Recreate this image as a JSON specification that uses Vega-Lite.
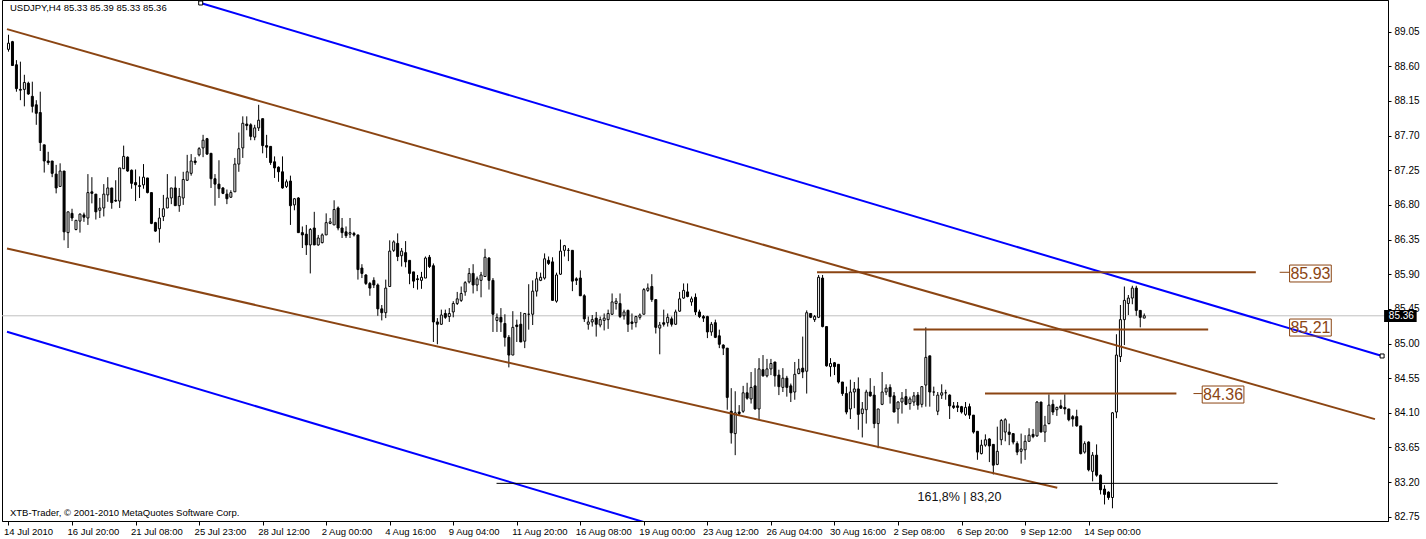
{
"$schema": "https://vega.github.io/schema/vega-lite/v6.json",
"width": 1386, "height": 521,
"autosize": {"type": "none"},
"padding": {"left": 2, "top": 0, "right": 38, "bottom": 18},
"background": "white",
"config": {"view": {"stroke": "black", "strokeWidth": 1}, "font": "Liberation Sans",
"axis": {"grid": false, "title": null, "tickColor": "black", "domainColor": "black", "labelFont": "Liberation Sans", "labelFontSize": 10, "labelColor": "black", "labelBound": false, "labelOverlap": false, "labelFlush": false}},
"datasets": {
"candles": [
{"i":0,"o":88.82,"h":89.01,"l":88.79,"c":88.90},
{"i":1,"o":88.92,"h":88.93,"l":88.61,"c":88.61},
{"i":2,"o":88.62,"h":88.68,"l":88.27,"c":88.31},
{"i":3,"o":88.30,"h":88.66,"l":88.16,"c":88.29},
{"i":4,"o":88.30,"h":88.49,"l":88.08,"c":88.39},
{"i":5,"o":88.38,"h":88.40,"l":88.23,"c":88.24},
{"i":6,"o":88.21,"h":88.40,"l":88.00,"c":88.08},
{"i":7,"o":88.10,"h":88.16,"l":87.84,"c":87.99},
{"i":8,"o":88.00,"h":88.27,"l":87.50,"c":87.61},
{"i":9,"o":87.58,"h":87.58,"l":87.22,"c":87.37},
{"i":10,"o":87.37,"h":87.49,"l":87.32,"c":87.35},
{"i":11,"o":87.37,"h":87.37,"l":87.16,"c":87.21},
{"i":12,"o":87.20,"h":87.32,"l":86.95,"c":87.02},
{"i":13,"o":87.04,"h":87.34,"l":87.04,"c":87.24},
{"i":14,"o":87.24,"h":87.24,"l":86.34,"c":86.45},
{"i":15,"o":86.44,"h":86.71,"l":86.24,"c":86.71},
{"i":16,"o":86.69,"h":86.75,"l":86.59,"c":86.63},
{"i":17,"o":86.48,"h":86.60,"l":86.47,"c":86.60},
{"i":18,"o":86.59,"h":86.69,"l":86.44,"c":86.68},
{"i":19,"o":86.67,"h":86.70,"l":86.58,"c":86.64},
{"i":20,"o":86.63,"h":87.20,"l":86.54,"c":86.96},
{"i":21,"o":86.97,"h":87.16,"l":86.82,"c":86.95},
{"i":22,"o":86.94,"h":86.94,"l":86.61,"c":86.71},
{"i":23,"o":86.73,"h":86.89,"l":86.63,"c":86.76},
{"i":24,"o":86.76,"h":87.07,"l":86.65,"c":86.94},
{"i":25,"o":86.93,"h":87.16,"l":86.84,"c":87.02},
{"i":26,"o":87.02,"h":87.02,"l":86.75,"c":86.83},
{"i":27,"o":86.86,"h":87.12,"l":86.84,"c":86.85},
{"i":28,"o":86.85,"h":87.28,"l":86.76,"c":87.28},
{"i":29,"o":87.27,"h":87.57,"l":87.27,"c":87.43},
{"i":30,"o":87.42,"h":87.43,"l":87.23,"c":87.24},
{"i":31,"o":87.25,"h":87.26,"l":87.01,"c":87.08},
{"i":32,"o":87.09,"h":87.26,"l":86.85,"c":87.06},
{"i":33,"o":87.05,"h":87.17,"l":86.89,"c":87.04},
{"i":34,"o":87.06,"h":87.33,"l":87.01,"c":87.16},
{"i":35,"o":87.15,"h":87.15,"l":86.95,"c":86.96},
{"i":36,"o":86.96,"h":86.96,"l":86.55,"c":86.56},
{"i":37,"o":86.57,"h":86.58,"l":86.45,"c":86.46},
{"i":38,"o":86.49,"h":86.76,"l":86.31,"c":86.63},
{"i":39,"o":86.65,"h":86.93,"l":86.59,"c":86.75},
{"i":40,"o":86.76,"h":87.20,"l":86.76,"c":86.89},
{"i":41,"o":86.89,"h":87.02,"l":86.81,"c":87.02},
{"i":42,"o":87.02,"h":87.17,"l":86.79,"c":86.79},
{"i":43,"o":86.79,"h":87.02,"l":86.71,"c":86.91},
{"i":44,"o":86.89,"h":87.23,"l":86.80,"c":87.13},
{"i":45,"o":87.12,"h":87.45,"l":87.11,"c":87.23},
{"i":46,"o":87.21,"h":87.46,"l":87.18,"c":87.37},
{"i":47,"o":87.37,"h":87.42,"l":87.32,"c":87.35},
{"i":48,"o":87.45,"h":87.55,"l":87.43,"c":87.53},
{"i":49,"o":87.54,"h":87.71,"l":87.42,"c":87.64},
{"i":50,"o":87.66,"h":87.67,"l":87.45,"c":87.46},
{"i":51,"o":87.47,"h":87.47,"l":87.02,"c":87.14},
{"i":52,"o":87.14,"h":87.20,"l":86.79,"c":87.07},
{"i":53,"o":87.07,"h":87.38,"l":86.89,"c":87.01},
{"i":54,"o":87.02,"h":87.03,"l":86.94,"c":86.95},
{"i":55,"o":86.94,"h":87.00,"l":86.81,"c":86.88},
{"i":56,"o":86.90,"h":86.99,"l":86.89,"c":86.96},
{"i":57,"o":86.97,"h":87.41,"l":86.97,"c":87.33},
{"i":58,"o":87.33,"h":87.74,"l":87.23,"c":87.53},
{"i":59,"o":87.54,"h":87.95,"l":87.41,"c":87.86},
{"i":60,"o":87.85,"h":87.95,"l":87.77,"c":87.83},
{"i":61,"o":87.84,"h":87.86,"l":87.64,"c":87.69},
{"i":62,"o":87.68,"h":87.84,"l":87.64,"c":87.80},
{"i":63,"o":87.80,"h":88.10,"l":87.76,"c":87.90},
{"i":64,"o":87.92,"h":87.92,"l":87.47,"c":87.57},
{"i":65,"o":87.57,"h":87.71,"l":87.41,"c":87.55},
{"i":66,"o":87.56,"h":87.56,"l":87.32,"c":87.35},
{"i":67,"o":87.36,"h":87.43,"l":87.15,"c":87.28},
{"i":68,"o":87.29,"h":87.30,"l":87.10,"c":87.23},
{"i":69,"o":87.23,"h":87.43,"l":87.01,"c":87.02},
{"i":70,"o":87.04,"h":87.13,"l":87.02,"c":87.10},
{"i":71,"o":87.11,"h":87.18,"l":86.54,"c":86.79},
{"i":72,"o":86.80,"h":86.89,"l":86.73,"c":86.88},
{"i":73,"o":86.89,"h":86.90,"l":86.44,"c":86.44},
{"i":74,"o":86.44,"h":86.52,"l":86.24,"c":86.41},
{"i":75,"o":86.42,"h":86.54,"l":86.15,"c":86.28},
{"i":76,"o":86.28,"h":86.50,"l":85.91,"c":86.48},
{"i":77,"o":86.50,"h":86.71,"l":86.28,"c":86.28},
{"i":78,"o":86.28,"h":86.41,"l":86.27,"c":86.37},
{"i":79,"o":86.31,"h":86.43,"l":86.30,"c":86.41},
{"i":80,"o":86.41,"h":86.69,"l":86.41,"c":86.57},
{"i":81,"o":86.56,"h":86.63,"l":86.55,"c":86.58},
{"i":82,"o":86.54,"h":86.86,"l":86.54,"c":86.74},
{"i":83,"o":86.76,"h":86.78,"l":86.47,"c":86.50},
{"i":84,"o":86.50,"h":86.63,"l":86.37,"c":86.44},
{"i":85,"o":86.45,"h":86.52,"l":86.37,"c":86.40},
{"i":86,"o":86.42,"h":86.63,"l":86.37,"c":86.44},
{"i":87,"o":86.43,"h":86.45,"l":86.39,"c":86.41},
{"i":88,"o":86.41,"h":86.41,"l":85.83,"c":85.96},
{"i":89,"o":85.98,"h":86.03,"l":85.85,"c":85.91},
{"i":90,"o":85.89,"h":85.90,"l":85.76,"c":85.78},
{"i":91,"o":85.78,"h":85.80,"l":85.62,"c":85.72},
{"i":92,"o":85.82,"h":85.86,"l":85.72,"c":85.76},
{"i":93,"o":85.76,"h":85.78,"l":85.36,"c":85.45},
{"i":94,"o":85.45,"h":85.50,"l":85.30,"c":85.40},
{"i":95,"o":85.40,"h":85.83,"l":85.33,"c":85.72},
{"i":96,"o":85.74,"h":86.34,"l":85.74,"c":86.20},
{"i":97,"o":86.21,"h":86.34,"l":86.19,"c":86.32},
{"i":98,"o":86.30,"h":86.43,"l":86.07,"c":86.13},
{"i":99,"o":86.14,"h":86.24,"l":86.00,"c":86.20},
{"i":100,"o":86.18,"h":86.33,"l":85.99,"c":86.06},
{"i":101,"o":86.08,"h":86.08,"l":85.77,"c":85.91},
{"i":102,"o":85.93,"h":85.93,"l":85.72,"c":85.81},
{"i":103,"o":85.84,"h":85.89,"l":85.70,"c":85.83},
{"i":104,"o":85.82,"h":85.93,"l":85.71,"c":85.86},
{"i":105,"o":85.85,"h":86.13,"l":85.85,"c":86.11},
{"i":106,"o":86.12,"h":86.15,"l":85.98,"c":86.00},
{"i":107,"o":86.01,"h":86.04,"l":85.02,"c":85.28},
{"i":108,"o":85.28,"h":85.33,"l":84.99,"c":85.25},
{"i":109,"o":85.25,"h":85.44,"l":85.24,"c":85.37},
{"i":110,"o":85.39,"h":85.44,"l":85.32,"c":85.34},
{"i":111,"o":85.35,"h":85.46,"l":85.28,"c":85.39},
{"i":112,"o":85.41,"h":85.55,"l":85.34,"c":85.52},
{"i":113,"o":85.52,"h":85.67,"l":85.50,"c":85.58},
{"i":114,"o":85.56,"h":85.74,"l":85.54,"c":85.65},
{"i":115,"o":85.67,"h":85.81,"l":85.62,"c":85.79},
{"i":116,"o":85.80,"h":85.98,"l":85.78,"c":85.91},
{"i":117,"o":85.91,"h":86.03,"l":85.65,"c":85.76},
{"i":118,"o":85.76,"h":85.87,"l":85.68,"c":85.84},
{"i":119,"o":85.82,"h":85.93,"l":85.60,"c":85.89},
{"i":120,"o":85.87,"h":86.23,"l":85.87,"c":86.12},
{"i":121,"o":86.11,"h":86.12,"l":85.70,"c":85.82},
{"i":122,"o":85.82,"h":85.85,"l":85.15,"c":85.38},
{"i":123,"o":85.30,"h":85.39,"l":85.15,"c":85.34},
{"i":124,"o":85.34,"h":85.46,"l":85.15,"c":85.28},
{"i":125,"o":85.26,"h":85.38,"l":84.96,"c":85.08},
{"i":126,"o":85.08,"h":85.11,"l":84.69,"c":84.85},
{"i":127,"o":84.85,"h":85.42,"l":84.85,"c":85.21},
{"i":128,"o":85.24,"h":85.31,"l":85.02,"c":85.22},
{"i":129,"o":85.25,"h":85.41,"l":85.02,"c":85.02},
{"i":130,"o":85.03,"h":85.39,"l":84.94,"c":85.39},
{"i":131,"o":85.38,"h":85.77,"l":85.18,"c":85.38},
{"i":132,"o":85.38,"h":85.82,"l":85.24,"c":85.68},
{"i":133,"o":85.68,"h":85.93,"l":85.61,"c":85.84},
{"i":134,"o":85.82,"h":85.92,"l":85.81,"c":85.86},
{"i":135,"o":85.85,"h":86.17,"l":85.83,"c":86.10},
{"i":136,"o":86.08,"h":86.13,"l":86.02,"c":86.04},
{"i":137,"o":86.06,"h":86.12,"l":85.56,"c":85.56},
{"i":138,"o":85.55,"h":85.92,"l":85.53,"c":85.89},
{"i":139,"o":85.90,"h":86.35,"l":85.89,"c":86.20},
{"i":140,"o":86.21,"h":86.28,"l":86.13,"c":86.27},
{"i":141,"o":86.21,"h":86.24,"l":86.07,"c":86.21},
{"i":142,"o":86.21,"h":86.21,"l":85.68,"c":85.81},
{"i":143,"o":85.84,"h":85.86,"l":85.76,"c":85.82},
{"i":144,"o":85.85,"h":85.95,"l":85.62,"c":85.62},
{"i":145,"o":85.62,"h":85.64,"l":85.28,"c":85.32},
{"i":146,"o":85.25,"h":85.35,"l":85.18,"c":85.28},
{"i":147,"o":85.28,"h":85.37,"l":85.22,"c":85.31},
{"i":148,"o":85.33,"h":85.41,"l":85.09,"c":85.25},
{"i":149,"o":85.24,"h":85.35,"l":85.21,"c":85.31},
{"i":150,"o":85.30,"h":85.39,"l":85.17,"c":85.33},
{"i":151,"o":85.31,"h":85.44,"l":85.19,"c":85.39},
{"i":152,"o":85.38,"h":85.65,"l":85.37,"c":85.54},
{"i":153,"o":85.52,"h":85.59,"l":85.44,"c":85.55},
{"i":154,"o":85.52,"h":85.65,"l":85.33,"c":85.35},
{"i":155,"o":85.36,"h":85.44,"l":85.31,"c":85.41},
{"i":156,"o":85.43,"h":85.44,"l":85.15,"c":85.25},
{"i":157,"o":85.28,"h":85.39,"l":85.18,"c":85.26},
{"i":158,"o":85.27,"h":85.36,"l":85.21,"c":85.35},
{"i":159,"o":85.34,"h":85.39,"l":85.31,"c":85.37},
{"i":160,"o":85.38,"h":85.72,"l":85.38,"c":85.70},
{"i":161,"o":85.69,"h":85.78,"l":85.67,"c":85.72},
{"i":162,"o":85.74,"h":85.90,"l":85.54,"c":85.57},
{"i":163,"o":85.57,"h":85.57,"l":85.13,"c":85.21},
{"i":164,"o":85.20,"h":85.28,"l":84.86,"c":85.24},
{"i":165,"o":85.27,"h":85.44,"l":85.22,"c":85.25},
{"i":166,"o":85.27,"h":85.39,"l":85.22,"c":85.34},
{"i":167,"o":85.32,"h":85.35,"l":85.22,"c":85.25},
{"i":168,"o":85.25,"h":85.44,"l":85.24,"c":85.41},
{"i":169,"o":85.42,"h":85.67,"l":85.41,"c":85.58},
{"i":170,"o":85.59,"h":85.78,"l":85.58,"c":85.69},
{"i":171,"o":85.67,"h":85.78,"l":85.60,"c":85.61},
{"i":172,"o":85.54,"h":85.61,"l":85.49,"c":85.58},
{"i":173,"o":85.60,"h":85.65,"l":85.37,"c":85.41},
{"i":174,"o":85.41,"h":85.44,"l":85.33,"c":85.35},
{"i":175,"o":85.35,"h":85.37,"l":85.28,"c":85.33},
{"i":176,"o":85.35,"h":85.36,"l":85.07,"c":85.15},
{"i":177,"o":85.15,"h":85.28,"l":85.10,"c":85.25},
{"i":178,"o":85.27,"h":85.31,"l":85.07,"c":85.08},
{"i":179,"o":85.10,"h":85.18,"l":84.94,"c":84.99},
{"i":180,"o":84.98,"h":84.99,"l":84.85,"c":84.94},
{"i":181,"o":84.94,"h":84.94,"l":84.14,"c":84.30},
{"i":182,"o":84.12,"h":84.42,"l":83.70,"c":83.84},
{"i":183,"o":83.83,"h":84.38,"l":83.55,"c":84.10},
{"i":184,"o":84.11,"h":84.20,"l":84.07,"c":84.09},
{"i":185,"o":84.12,"h":84.45,"l":84.10,"c":84.36},
{"i":186,"o":84.36,"h":84.49,"l":84.27,"c":84.29},
{"i":187,"o":84.28,"h":84.63,"l":84.22,"c":84.43},
{"i":188,"o":84.45,"h":84.68,"l":84.14,"c":84.15},
{"i":189,"o":84.15,"h":84.81,"l":84.02,"c":84.67},
{"i":190,"o":84.66,"h":84.85,"l":84.57,"c":84.58},
{"i":191,"o":84.58,"h":84.80,"l":84.56,"c":84.67},
{"i":192,"o":84.67,"h":84.80,"l":84.59,"c":84.74},
{"i":193,"o":84.76,"h":84.76,"l":84.44,"c":84.58},
{"i":194,"o":84.59,"h":84.66,"l":84.33,"c":84.44},
{"i":195,"o":84.43,"h":84.68,"l":84.37,"c":84.55},
{"i":196,"o":84.55,"h":84.58,"l":84.31,"c":84.43},
{"i":197,"o":84.45,"h":84.48,"l":84.24,"c":84.36},
{"i":198,"o":84.37,"h":84.76,"l":84.27,"c":84.60},
{"i":199,"o":84.61,"h":84.80,"l":84.60,"c":84.67},
{"i":200,"o":84.68,"h":85.09,"l":84.55,"c":84.63},
{"i":201,"o":84.64,"h":85.43,"l":84.35,"c":85.40},
{"i":202,"o":85.39,"h":85.39,"l":85.33,"c":85.34},
{"i":203,"o":85.31,"h":85.37,"l":85.28,"c":85.35},
{"i":204,"o":85.34,"h":85.89,"l":85.33,"c":85.86},
{"i":205,"o":85.85,"h":85.89,"l":85.21,"c":85.22},
{"i":206,"o":85.22,"h":85.22,"l":84.70,"c":84.71},
{"i":207,"o":84.70,"h":84.81,"l":84.57,"c":84.74},
{"i":208,"o":84.75,"h":84.76,"l":84.59,"c":84.70},
{"i":209,"o":84.73,"h":84.73,"l":84.48,"c":84.50},
{"i":210,"o":84.50,"h":84.50,"l":84.32,"c":84.35},
{"i":211,"o":84.35,"h":84.44,"l":84.08,"c":84.11},
{"i":212,"o":84.15,"h":84.53,"l":84.02,"c":84.37},
{"i":213,"o":84.37,"h":84.50,"l":84.16,"c":84.41},
{"i":214,"o":84.41,"h":84.56,"l":83.88,"c":84.08},
{"i":215,"o":84.09,"h":84.24,"l":83.78,"c":84.15},
{"i":216,"o":84.14,"h":84.40,"l":83.96,"c":84.37},
{"i":217,"o":84.37,"h":84.55,"l":84.31,"c":84.32},
{"i":218,"o":84.33,"h":84.45,"l":83.90,"c":83.96},
{"i":219,"o":83.96,"h":84.15,"l":83.64,"c":84.15},
{"i":220,"o":84.21,"h":84.63,"l":84.20,"c":84.37},
{"i":221,"o":84.37,"h":84.47,"l":84.33,"c":84.42},
{"i":222,"o":84.43,"h":84.47,"l":84.22,"c":84.31},
{"i":223,"o":84.32,"h":84.37,"l":84.11,"c":84.11},
{"i":224,"o":84.15,"h":84.25,"l":83.96,"c":84.24},
{"i":225,"o":84.24,"h":84.37,"l":84.09,"c":84.29},
{"i":226,"o":84.31,"h":84.41,"l":84.20,"c":84.21},
{"i":227,"o":84.22,"h":84.31,"l":84.14,"c":84.28},
{"i":228,"o":84.24,"h":84.37,"l":84.19,"c":84.32},
{"i":229,"o":84.33,"h":84.37,"l":84.14,"c":84.20},
{"i":230,"o":84.21,"h":84.44,"l":84.17,"c":84.44},
{"i":231,"o":84.46,"h":85.21,"l":84.18,"c":84.82},
{"i":232,"o":84.84,"h":84.84,"l":84.18,"c":84.37},
{"i":233,"o":84.37,"h":84.44,"l":84.32,"c":84.37},
{"i":234,"o":84.12,"h":84.37,"l":84.07,"c":84.33},
{"i":235,"o":84.33,"h":84.47,"l":84.28,"c":84.36},
{"i":236,"o":84.36,"h":84.40,"l":84.27,"c":84.36},
{"i":237,"o":84.33,"h":84.34,"l":84.02,"c":84.19},
{"i":238,"o":84.19,"h":84.24,"l":84.15,"c":84.17},
{"i":239,"o":84.19,"h":84.24,"l":84.11,"c":84.17},
{"i":240,"o":84.18,"h":84.19,"l":84.09,"c":84.11},
{"i":241,"o":84.08,"h":84.24,"l":84.06,"c":84.17},
{"i":242,"o":84.18,"h":84.22,"l":84.02,"c":84.07},
{"i":243,"o":84.07,"h":84.07,"l":83.83,"c":83.85},
{"i":244,"o":83.86,"h":83.86,"l":83.49,"c":83.59},
{"i":245,"o":83.57,"h":83.75,"l":83.56,"c":83.68},
{"i":246,"o":83.68,"h":83.82,"l":83.66,"c":83.75},
{"i":247,"o":83.76,"h":83.77,"l":83.46,"c":83.67},
{"i":248,"o":83.69,"h":83.69,"l":83.30,"c":83.42},
{"i":249,"o":83.43,"h":83.92,"l":83.42,"c":83.60},
{"i":250,"o":83.75,"h":84.02,"l":83.68,"c":84.00},
{"i":251,"o":83.85,"h":84.03,"l":83.73,"c":84.01},
{"i":252,"o":83.85,"h":83.96,"l":83.68,"c":83.82},
{"i":253,"o":83.83,"h":83.83,"l":83.69,"c":83.72},
{"i":254,"o":83.70,"h":83.73,"l":83.55,"c":83.59},
{"i":255,"o":83.60,"h":83.83,"l":83.44,"c":83.63},
{"i":256,"o":83.62,"h":83.81,"l":83.49,"c":83.73},
{"i":257,"o":83.73,"h":83.90,"l":83.73,"c":83.81},
{"i":258,"o":83.82,"h":83.89,"l":83.77,"c":83.79},
{"i":259,"o":83.80,"h":84.25,"l":83.79,"c":84.24},
{"i":260,"o":84.24,"h":84.24,"l":83.85,"c":83.85},
{"i":261,"o":83.85,"h":84.06,"l":83.72,"c":83.94},
{"i":262,"o":83.96,"h":84.34,"l":83.95,"c":84.20},
{"i":263,"o":84.21,"h":84.27,"l":84.07,"c":84.11},
{"i":264,"o":84.14,"h":84.18,"l":84.06,"c":84.17},
{"i":265,"o":84.19,"h":84.27,"l":84.15,"c":84.16},
{"i":266,"o":84.17,"h":84.34,"l":84.08,"c":84.15},
{"i":267,"o":84.15,"h":84.15,"l":83.99,"c":84.01},
{"i":268,"o":84.05,"h":84.07,"l":83.92,"c":84.02},
{"i":269,"o":84.05,"h":84.14,"l":83.92,"c":83.93},
{"i":270,"o":83.93,"h":83.93,"l":83.56,"c":83.57},
{"i":271,"o":83.59,"h":83.73,"l":83.57,"c":83.70},
{"i":272,"o":83.72,"h":83.73,"l":83.34,"c":83.36},
{"i":273,"o":83.34,"h":83.59,"l":83.21,"c":83.55},
{"i":274,"o":83.55,"h":83.69,"l":83.27,"c":83.29},
{"i":275,"o":83.29,"h":83.30,"l":83.04,"c":83.10},
{"i":276,"o":83.11,"h":83.16,"l":82.91,"c":83.04},
{"i":277,"o":83.07,"h":83.08,"l":82.97,"c":83.00},
{"i":278,"o":83.00,"h":84.11,"l":82.86,"c":84.10},
{"i":279,"o":84.11,"h":85.12,"l":84.03,"c":84.85},
{"i":280,"o":84.83,"h":85.50,"l":84.76,"c":85.31},
{"i":281,"o":85.31,"h":85.74,"l":84.98,"c":85.56},
{"i":282,"o":85.52,"h":85.63,"l":85.37,"c":85.59},
{"i":283,"o":85.59,"h":85.75,"l":85.51,"c":85.72},
{"i":284,"o":85.72,"h":85.75,"l":85.36,"c":85.43},
{"i":285,"o":85.43,"h":85.43,"l":85.21,"c":85.34},
{"i":286,"o":85.33,"h":85.39,"l":85.33,"c":85.36}
],
"trend": [
{"name":"upper blue","i":48.4,"p":89.422},
{"name":"upper blue","i":345.9,"p":84.838},
{"name":"lower blue","i":-0.375,"p":85.152},
{"name":"lower blue","i":174.1,"p":82.464},
{"name":"upper brown","i":-0.375,"p":89.083},
{"name":"upper brown","i":344.1,"p":84.018},
{"name":"lower brown","i":-0.375,"p":86.235},
{"name":"lower brown","i":264.1,"p":83.127}
]
},
"resolve": {"scale": {"color": "independent", "size": "independent", "strokeWidth": "independent"}},
"layer": [
{
"data": {"values": [{"i": 0, "p": 85.36}]},
"mark": {"type": "rule", "color": "#c0c0c0", "strokeWidth": 1},
"encoding": {
"y": {"field": "p", "type": "quantitative", "scale": {"domain": [82.695, 89.461], "nice": false, "zero": false},
"axis": {"orient": "right", "values": [82.75, 83.2, 83.65, 84.1, 84.55, 85, 85.45, 85.9, 86.35, 86.8, 87.25, 87.7, 88.15, 88.6, 89.05], "format": ".2f", "tickSize": 3, "labelPadding": 3}}
}
},
{
"data": {"name": "candles"},
"mark": {"type": "rule", "color": "black", "strokeWidth": 1},
"encoding": {
"x": {"field": "i", "type": "quantitative", "scale": {"domain": [-0.375, 346.125], "nice": false, "zero": false},
"axis": {"orient": "bottom", "values": [0, 16, 32, 48, 64, 80, 96, 112, 128, 144, 160, 176, 192, 208, 224, 240, 256, 272], "labelExpr": "['14 Jul 2010','16 Jul 20:00','21 Jul 08:00','25 Jul 23:00','28 Jul 12:00','2 Aug 00:00','4 Aug 16:00','9 Aug 04:00','11 Aug 20:00','16 Aug 08:00','19 Aug 00:00','23 Aug 12:00','26 Aug 04:00','30 Aug 16:00','2 Sep 08:00','6 Sep 20:00','9 Sep 12:00','14 Sep 00:00'][round(datum.value/16)]", "tickSize": 4, "labelAlign": "left", "labelBaseline": "top", "labelPadding": 1, "labelOffset": -5, "labelFontSize": 9.5}},
"y": {"field": "l", "type": "quantitative", "scale": {"domain": [82.695, 89.461], "nice": false, "zero": false},
"axis": {"orient": "right", "values": [82.75, 83.2, 83.65, 84.1, 84.55, 85, 85.45, 85.9, 86.35, 86.8, 87.25, 87.7, 88.15, 88.6, 89.05], "format": ".2f", "tickSize": 3, "labelPadding": 3}},
"y2": {"field": "h"}
}
},
{
"data": {"name": "candles"},
"mark": {"type": "bar", "width": 2, "stroke": "black", "strokeWidth": 1},
"encoding": {
"x": {"field": "i", "type": "quantitative", "scale": {"domain": [-0.375, 346.125], "nice": false, "zero": false},
"axis": {"orient": "bottom", "values": [0, 16, 32, 48, 64, 80, 96, 112, 128, 144, 160, 176, 192, 208, 224, 240, 256, 272], "labelExpr": "['14 Jul 2010','16 Jul 20:00','21 Jul 08:00','25 Jul 23:00','28 Jul 12:00','2 Aug 00:00','4 Aug 16:00','9 Aug 04:00','11 Aug 20:00','16 Aug 08:00','19 Aug 00:00','23 Aug 12:00','26 Aug 04:00','30 Aug 16:00','2 Sep 08:00','6 Sep 20:00','9 Sep 12:00','14 Sep 00:00'][round(datum.value/16)]", "tickSize": 4, "labelAlign": "left", "labelBaseline": "top", "labelPadding": 1, "labelOffset": -5, "labelFontSize": 9.5}},
"y": {"field": "o", "type": "quantitative", "scale": {"domain": [82.695, 89.461], "nice": false, "zero": false},
"axis": {"orient": "right", "values": [82.75, 83.2, 83.65, 84.1, 84.55, 85, 85.45, 85.9, 86.35, 86.8, 87.25, 87.7, 88.15, 88.6, 89.05], "format": ".2f", "tickSize": 3, "labelPadding": 3}},
"y2": {"field": "c"},
"fill": {"condition": {"test": "datum.c > datum.o", "value": "white"}, "value": "black"}
}
},
{
"data": {"name": "trend"},
"mark": {"type": "line", "strokeWidth": 2, "clip": true},
"encoding": {
"x": {"field": "i", "type": "quantitative", "scale": {"domain": [-0.375, 346.125], "nice": false, "zero": false},
"axis": {"orient": "bottom", "values": [0, 16, 32, 48, 64, 80, 96, 112, 128, 144, 160, 176, 192, 208, 224, 240, 256, 272], "labelExpr": "['14 Jul 2010','16 Jul 20:00','21 Jul 08:00','25 Jul 23:00','28 Jul 12:00','2 Aug 00:00','4 Aug 16:00','9 Aug 04:00','11 Aug 20:00','16 Aug 08:00','19 Aug 00:00','23 Aug 12:00','26 Aug 04:00','30 Aug 16:00','2 Sep 08:00','6 Sep 20:00','9 Sep 12:00','14 Sep 00:00'][round(datum.value/16)]", "tickSize": 4, "labelAlign": "left", "labelBaseline": "top", "labelPadding": 1, "labelOffset": -5, "labelFontSize": 9.5}},
"y": {"field": "p", "type": "quantitative", "scale": {"domain": [82.695, 89.461], "nice": false, "zero": false},
"axis": {"orient": "right", "values": [82.75, 83.2, 83.65, 84.1, 84.55, 85, 85.45, 85.9, 86.35, 86.8, 87.25, 87.7, 88.15, 88.6, 89.05], "format": ".2f", "tickSize": 3, "labelPadding": 3}},
"detail": {"field": "name"},
"color": {"field": "name", "type": "nominal", "scale": {"domain": ["upper blue", "lower blue", "upper brown", "lower brown"], "range": ["#0000ff", "#0000ff", "#8b4513", "#8b4513"]}, "legend": null}
}
},
{
"data": {"values": [
{"i1": 203.6, "i2": 314.1, "p": 85.925},
{"i1": 227.9, "i2": 302.1, "p": 85.182},
{"i1": 245.9, "i2": 294.1, "p": 84.35}
]},
"mark": {"type": "rule", "color": "#8b4513", "strokeWidth": 2},
"encoding": {
"x": {"field": "i1", "type": "quantitative", "scale": {"domain": [-0.375, 346.125], "nice": false, "zero": false},
"axis": {"orient": "bottom", "values": [0, 16, 32, 48, 64, 80, 96, 112, 128, 144, 160, 176, 192, 208, 224, 240, 256, 272], "labelExpr": "['14 Jul 2010','16 Jul 20:00','21 Jul 08:00','25 Jul 23:00','28 Jul 12:00','2 Aug 00:00','4 Aug 16:00','9 Aug 04:00','11 Aug 20:00','16 Aug 08:00','19 Aug 00:00','23 Aug 12:00','26 Aug 04:00','30 Aug 16:00','2 Sep 08:00','6 Sep 20:00','9 Sep 12:00','14 Sep 00:00'][round(datum.value/16)]", "tickSize": 4, "labelAlign": "left", "labelBaseline": "top", "labelPadding": 1, "labelOffset": -5, "labelFontSize": 9.5}},
"x2": {"field": "i2"},
"y": {"field": "p", "type": "quantitative", "scale": {"domain": [82.695, 89.461], "nice": false, "zero": false},
"axis": {"orient": "right", "values": [82.75, 83.2, 83.65, 84.1, 84.55, 85, 85.45, 85.9, 86.35, 86.8, 87.25, 87.7, 88.15, 88.6, 89.05], "format": ".2f", "tickSize": 3, "labelPadding": 3}}
}
},
{
"data": {"values": [
{"i1": 320.1, "i2": 322.6, "p": 85.925},
{"i1": 298.4, "i2": 300.6, "p": 84.35}
]},
"mark": {"type": "rule", "color": "#8b4513", "strokeWidth": 1},
"encoding": {
"x": {"field": "i1", "type": "quantitative", "scale": {"domain": [-0.375, 346.125], "nice": false, "zero": false},
"axis": {"orient": "bottom", "values": [0, 16, 32, 48, 64, 80, 96, 112, 128, 144, 160, 176, 192, 208, 224, 240, 256, 272], "labelExpr": "['14 Jul 2010','16 Jul 20:00','21 Jul 08:00','25 Jul 23:00','28 Jul 12:00','2 Aug 00:00','4 Aug 16:00','9 Aug 04:00','11 Aug 20:00','16 Aug 08:00','19 Aug 00:00','23 Aug 12:00','26 Aug 04:00','30 Aug 16:00','2 Sep 08:00','6 Sep 20:00','9 Sep 12:00','14 Sep 00:00'][round(datum.value/16)]", "tickSize": 4, "labelAlign": "left", "labelBaseline": "top", "labelPadding": 1, "labelOffset": -5, "labelFontSize": 9.5}},
"x2": {"field": "i2"},
"y": {"field": "p", "type": "quantitative", "scale": {"domain": [82.695, 89.461], "nice": false, "zero": false},
"axis": {"orient": "right", "values": [82.75, 83.2, 83.65, 84.1, 84.55, 85, 85.45, 85.9, 86.35, 86.8, 87.25, 87.7, 88.15, 88.6, 89.05], "format": ".2f", "tickSize": 3, "labelPadding": 3}}
}
},
{
"data": {"values": [{"i1": 122.9, "i2": 319.6, "p": 83.184}]},
"mark": {"type": "rule", "color": "black", "strokeWidth": 1},
"encoding": {
"x": {"field": "i1", "type": "quantitative", "scale": {"domain": [-0.375, 346.125], "nice": false, "zero": false},
"axis": {"orient": "bottom", "values": [0, 16, 32, 48, 64, 80, 96, 112, 128, 144, 160, 176, 192, 208, 224, 240, 256, 272], "labelExpr": "['14 Jul 2010','16 Jul 20:00','21 Jul 08:00','25 Jul 23:00','28 Jul 12:00','2 Aug 00:00','4 Aug 16:00','9 Aug 04:00','11 Aug 20:00','16 Aug 08:00','19 Aug 00:00','23 Aug 12:00','26 Aug 04:00','30 Aug 16:00','2 Sep 08:00','6 Sep 20:00','9 Sep 12:00','14 Sep 00:00'][round(datum.value/16)]", "tickSize": 4, "labelAlign": "left", "labelBaseline": "top", "labelPadding": 1, "labelOffset": -5, "labelFontSize": 9.5}},
"x2": {"field": "i2"},
"y": {"field": "p", "type": "quantitative", "scale": {"domain": [82.695, 89.461], "nice": false, "zero": false},
"axis": {"orient": "right", "values": [82.75, 83.2, 83.65, 84.1, 84.55, 85, 85.45, 85.9, 86.35, 86.8, 87.25, 87.7, 88.15, 88.6, 89.05], "format": ".2f", "tickSize": 3, "labelPadding": 3}}
}
},
{
"data": {"values": [
{"i1": 322.6, "i2": 333.1, "p1": 86.019, "p2": 85.799},
{"i1": 322.6, "i2": 333.1, "p1": 85.318, "p2": 85.097},
{"i1": 300.6, "i2": 311.1, "p1": 84.448, "p2": 84.227}
]},
"mark": {"type": "rect", "filled": false, "stroke": "#8b4513", "strokeWidth": 1},
"encoding": {
"x": {"field": "i1", "type": "quantitative", "scale": {"domain": [-0.375, 346.125], "nice": false, "zero": false},
"axis": {"orient": "bottom", "values": [0, 16, 32, 48, 64, 80, 96, 112, 128, 144, 160, 176, 192, 208, 224, 240, 256, 272], "labelExpr": "['14 Jul 2010','16 Jul 20:00','21 Jul 08:00','25 Jul 23:00','28 Jul 12:00','2 Aug 00:00','4 Aug 16:00','9 Aug 04:00','11 Aug 20:00','16 Aug 08:00','19 Aug 00:00','23 Aug 12:00','26 Aug 04:00','30 Aug 16:00','2 Sep 08:00','6 Sep 20:00','9 Sep 12:00','14 Sep 00:00'][round(datum.value/16)]", "tickSize": 4, "labelAlign": "left", "labelBaseline": "top", "labelPadding": 1, "labelOffset": -5, "labelFontSize": 9.5}},
"x2": {"field": "i2"},
"y": {"field": "p1", "type": "quantitative", "scale": {"domain": [82.695, 89.461], "nice": false, "zero": false},
"axis": {"orient": "right", "values": [82.75, 83.2, 83.65, 84.1, 84.55, 85, 85.45, 85.9, 86.35, 86.8, 87.25, 87.7, 88.15, 88.6, 89.05], "format": ".2f", "tickSize": 3, "labelPadding": 3}},
"y2": {"field": "p2"}
}
},
{
"data": {"values": [
{"t": "85.93", "i": 327.85, "p": 85.905},
{"t": "85.21", "i": 327.85, "p": 85.205},
{"t": "84.36", "i": 305.85, "p": 84.335}
]},
"mark": {"type": "text", "color": "#8b4513", "font": "Liberation Sans", "fontSize": 16, "align": "center", "baseline": "middle"},
"encoding": {
"x": {"field": "i", "type": "quantitative", "scale": {"domain": [-0.375, 346.125], "nice": false, "zero": false},
"axis": {"orient": "bottom", "values": [0, 16, 32, 48, 64, 80, 96, 112, 128, 144, 160, 176, 192, 208, 224, 240, 256, 272], "labelExpr": "['14 Jul 2010','16 Jul 20:00','21 Jul 08:00','25 Jul 23:00','28 Jul 12:00','2 Aug 00:00','4 Aug 16:00','9 Aug 04:00','11 Aug 20:00','16 Aug 08:00','19 Aug 00:00','23 Aug 12:00','26 Aug 04:00','30 Aug 16:00','2 Sep 08:00','6 Sep 20:00','9 Sep 12:00','14 Sep 00:00'][round(datum.value/16)]", "tickSize": 4, "labelAlign": "left", "labelBaseline": "top", "labelPadding": 1, "labelOffset": -5, "labelFontSize": 9.5}},
"y": {"field": "p", "type": "quantitative", "scale": {"domain": [82.695, 89.461], "nice": false, "zero": false},
"axis": {"orient": "right", "values": [82.75, 83.2, 83.65, 84.1, 84.55, 85, 85.45, 85.9, 86.35, 86.8, 87.25, 87.7, 88.15, 88.6, 89.05], "format": ".2f", "tickSize": 3, "labelPadding": 3}},
"text": {"field": "t"}
}
},
{
"data": {"values": [{"t": "161,8%  |  83,20", "i": 228.9, "p": 83.006}]},
"mark": {"type": "text", "color": "#111111", "font": "Liberation Sans", "fontSize": 12.5, "align": "left", "baseline": "middle"},
"encoding": {
"x": {"field": "i", "type": "quantitative", "scale": {"domain": [-0.375, 346.125], "nice": false, "zero": false},
"axis": {"orient": "bottom", "values": [0, 16, 32, 48, 64, 80, 96, 112, 128, 144, 160, 176, 192, 208, 224, 240, 256, 272], "labelExpr": "['14 Jul 2010','16 Jul 20:00','21 Jul 08:00','25 Jul 23:00','28 Jul 12:00','2 Aug 00:00','4 Aug 16:00','9 Aug 04:00','11 Aug 20:00','16 Aug 08:00','19 Aug 00:00','23 Aug 12:00','26 Aug 04:00','30 Aug 16:00','2 Sep 08:00','6 Sep 20:00','9 Sep 12:00','14 Sep 00:00'][round(datum.value/16)]", "tickSize": 4, "labelAlign": "left", "labelBaseline": "top", "labelPadding": 1, "labelOffset": -5, "labelFontSize": 9.5}},
"y": {"field": "p", "type": "quantitative", "scale": {"domain": [82.695, 89.461], "nice": false, "zero": false},
"axis": {"orient": "right", "values": [82.75, 83.2, 83.65, 84.1, 84.55, 85, 85.45, 85.9, 86.35, 86.8, 87.25, 87.7, 88.15, 88.6, 89.05], "format": ".2f", "tickSize": 3, "labelPadding": 3}},
"text": {"field": "t"}
}
},
{
"data": {"values": [
{"t": "USDJPY,H4  85.33 85.39 85.33 85.36", "i": 0.375, "p": 89.357},
{"t": "XTB-Trader, © 2001-2010 MetaQuotes Software Corp.", "i": 0.375, "p": 82.799}
]},
"mark": {"type": "text", "color": "black", "font": "Liberation Sans", "fontSize": 9.5, "align": "left", "baseline": "middle"},
"encoding": {
"x": {"field": "i", "type": "quantitative", "scale": {"domain": [-0.375, 346.125], "nice": false, "zero": false},
"axis": {"orient": "bottom", "values": [0, 16, 32, 48, 64, 80, 96, 112, 128, 144, 160, 176, 192, 208, 224, 240, 256, 272], "labelExpr": "['14 Jul 2010','16 Jul 20:00','21 Jul 08:00','25 Jul 23:00','28 Jul 12:00','2 Aug 00:00','4 Aug 16:00','9 Aug 04:00','11 Aug 20:00','16 Aug 08:00','19 Aug 00:00','23 Aug 12:00','26 Aug 04:00','30 Aug 16:00','2 Sep 08:00','6 Sep 20:00','9 Sep 12:00','14 Sep 00:00'][round(datum.value/16)]", "tickSize": 4, "labelAlign": "left", "labelBaseline": "top", "labelPadding": 1, "labelOffset": -5, "labelFontSize": 9.5}},
"y": {"field": "p", "type": "quantitative", "scale": {"domain": [82.695, 89.461], "nice": false, "zero": false},
"axis": {"orient": "right", "values": [82.75, 83.2, 83.65, 84.1, 84.55, 85, 85.45, 85.9, 86.35, 86.8, 87.25, 87.7, 88.15, 88.6, 89.05], "format": ".2f", "tickSize": 3, "labelPadding": 3}},
"text": {"field": "t"}
}
},
{
"data": {"values": [{"i": 48.4, "p": 89.422}, {"i": 345.9, "p": 84.838}]},
"mark": {"type": "point", "shape": "square", "size": 16, "filled": true, "fill": "white", "stroke": "black", "strokeWidth": 1, "opacity": 1},
"encoding": {
"x": {"field": "i", "type": "quantitative", "scale": {"domain": [-0.375, 346.125], "nice": false, "zero": false},
"axis": {"orient": "bottom", "values": [0, 16, 32, 48, 64, 80, 96, 112, 128, 144, 160, 176, 192, 208, 224, 240, 256, 272], "labelExpr": "['14 Jul 2010','16 Jul 20:00','21 Jul 08:00','25 Jul 23:00','28 Jul 12:00','2 Aug 00:00','4 Aug 16:00','9 Aug 04:00','11 Aug 20:00','16 Aug 08:00','19 Aug 00:00','23 Aug 12:00','26 Aug 04:00','30 Aug 16:00','2 Sep 08:00','6 Sep 20:00','9 Sep 12:00','14 Sep 00:00'][round(datum.value/16)]", "tickSize": 4, "labelAlign": "left", "labelBaseline": "top", "labelPadding": 1, "labelOffset": -5, "labelFontSize": 9.5}},
"y": {"field": "p", "type": "quantitative", "scale": {"domain": [82.695, 89.461], "nice": false, "zero": false},
"axis": {"orient": "right", "values": [82.75, 83.2, 83.65, 84.1, 84.55, 85, 85.45, 85.9, 86.35, 86.8, 87.25, 87.7, 88.15, 88.6, 89.05], "format": ".2f", "tickSize": 3, "labelPadding": 3}}
}
},
{
"data": {"values": [{"i1": 346.4, "i2": 354.6, "p1": 85.434, "p2": 85.279}]},
"mark": {"type": "rect", "color": "black", "clip": false},
"encoding": {
"x": {"field": "i1", "type": "quantitative", "scale": {"domain": [-0.375, 346.125], "nice": false, "zero": false},
"axis": {"orient": "bottom", "values": [0, 16, 32, 48, 64, 80, 96, 112, 128, 144, 160, 176, 192, 208, 224, 240, 256, 272], "labelExpr": "['14 Jul 2010','16 Jul 20:00','21 Jul 08:00','25 Jul 23:00','28 Jul 12:00','2 Aug 00:00','4 Aug 16:00','9 Aug 04:00','11 Aug 20:00','16 Aug 08:00','19 Aug 00:00','23 Aug 12:00','26 Aug 04:00','30 Aug 16:00','2 Sep 08:00','6 Sep 20:00','9 Sep 12:00','14 Sep 00:00'][round(datum.value/16)]", "tickSize": 4, "labelAlign": "left", "labelBaseline": "top", "labelPadding": 1, "labelOffset": -5, "labelFontSize": 9.5}},
"x2": {"field": "i2"},
"y": {"field": "p1", "type": "quantitative", "scale": {"domain": [82.695, 89.461], "nice": false, "zero": false},
"axis": {"orient": "right", "values": [82.75, 83.2, 83.65, 84.1, 84.55, 85, 85.45, 85.9, 86.35, 86.8, 87.25, 87.7, 88.15, 88.6, 89.05], "format": ".2f", "tickSize": 3, "labelPadding": 3}},
"y2": {"field": "p2"}
}
},
{
"data": {"values": [{"t": "85.36", "i": 347.6, "p": 85.357}]},
"mark": {"type": "text", "color": "white", "font": "Liberation Sans", "fontSize": 10, "align": "left", "baseline": "middle", "clip": false},
"encoding": {
"x": {"field": "i", "type": "quantitative", "scale": {"domain": [-0.375, 346.125], "nice": false, "zero": false},
"axis": {"orient": "bottom", "values": [0, 16, 32, 48, 64, 80, 96, 112, 128, 144, 160, 176, 192, 208, 224, 240, 256, 272], "labelExpr": "['14 Jul 2010','16 Jul 20:00','21 Jul 08:00','25 Jul 23:00','28 Jul 12:00','2 Aug 00:00','4 Aug 16:00','9 Aug 04:00','11 Aug 20:00','16 Aug 08:00','19 Aug 00:00','23 Aug 12:00','26 Aug 04:00','30 Aug 16:00','2 Sep 08:00','6 Sep 20:00','9 Sep 12:00','14 Sep 00:00'][round(datum.value/16)]", "tickSize": 4, "labelAlign": "left", "labelBaseline": "top", "labelPadding": 1, "labelOffset": -5, "labelFontSize": 9.5}},
"y": {"field": "p", "type": "quantitative", "scale": {"domain": [82.695, 89.461], "nice": false, "zero": false},
"axis": {"orient": "right", "values": [82.75, 83.2, 83.65, 84.1, 84.55, 85, 85.45, 85.9, 86.35, 86.8, 87.25, 87.7, 88.15, 88.6, 89.05], "format": ".2f", "tickSize": 3, "labelPadding": 3}},
"text": {"field": "t"}
}
}
]
}
